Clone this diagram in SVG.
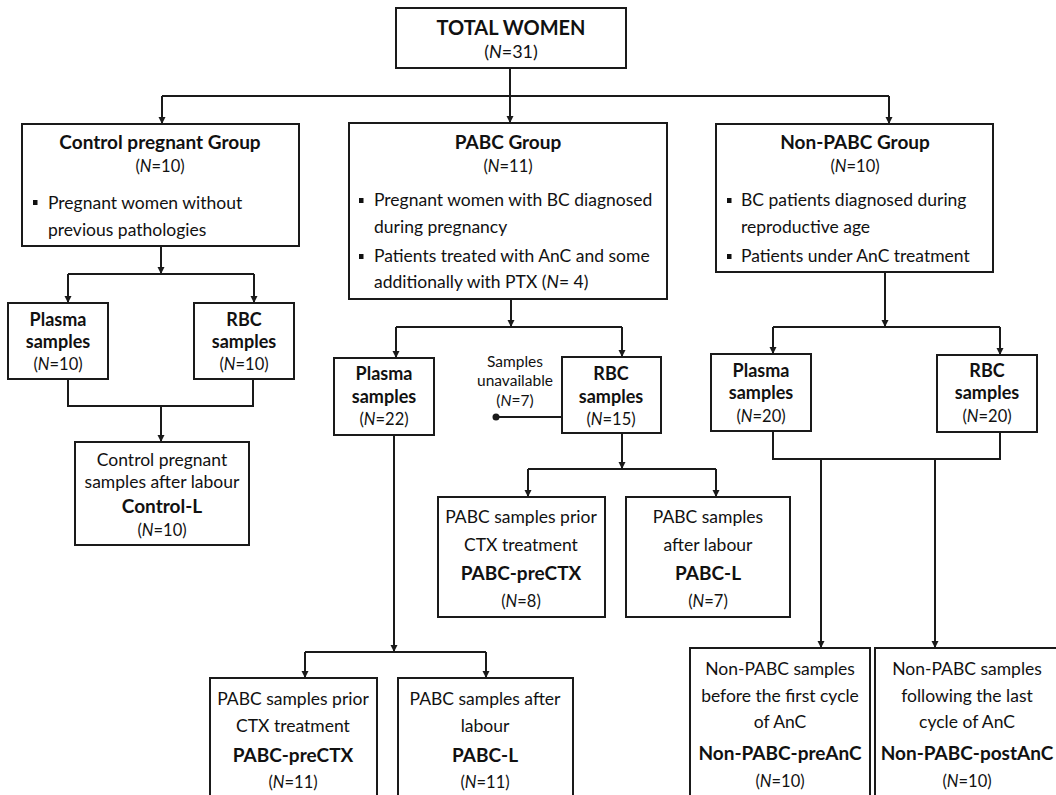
<svg xmlns="http://www.w3.org/2000/svg" width="1056" height="795" viewBox="0 0 1056 795">
<defs>
<marker id="arr" markerUnits="userSpaceOnUse" markerWidth="8" markerHeight="8" refX="7" refY="4" orient="auto">
<path d="M0,0.5 L7,4 L0,7.5 z" fill="#1a1a1a"/>
</marker>
<style>
.box{fill:#fff;stroke:#1a1a1a;stroke-width:2}
.ln{fill:none;stroke:#1a1a1a;stroke-width:2}
.ar{fill:none;stroke:#1a1a1a;stroke-width:2;marker-end:url(#arr)}
text{font-family:Lato,"Liberation Sans",sans-serif;fill:#111;font-size:17.5px}
.c{text-anchor:middle}
.b{font-weight:bold;font-size:18px}
.t{font-size:19px;font-weight:bold}
.n{font-size:16.5px}
.s{font-size:15.5px}
.i{font-style:italic}
.bul{fill:#111}
</style>
</defs>
<rect width="1056" height="795" fill="#fff"/>
<g id="connectors">
<path class="ar" d="M510,68 V123"/>
<path class="ln" d="M162,96 H889"/>
<path class="ar" d="M162,96 V124"/>
<path class="ar" d="M889,96 V124"/>
<path class="ar" d="M161,246 V274"/>
<path class="ln" d="M68,274 H254"/>
<path class="ar" d="M68,274 V303"/>
<path class="ar" d="M254,274 V303"/>
<path class="ln" d="M68,379 V406 H253 V379"/>
<path class="ar" d="M161,406 V442"/>
<path class="ar" d="M511,299 V327"/>
<path class="ln" d="M396,327 H622"/>
<path class="ar" d="M396,327 V358"/>
<path class="ar" d="M622,327 V357"/>
<path class="ln" d="M496,417 H562"/>
<circle cx="496" cy="417" r="3.5" fill="#1a1a1a"/>
<path class="ar" d="M622,433 V469"/>
<path class="ln" d="M528,469 H716"/>
<path class="ar" d="M528,469 V497"/>
<path class="ar" d="M716,469 V497"/>
<path class="ar" d="M394,435 V652"/>
<path class="ln" d="M305,652 H486"/>
<path class="ar" d="M305,652 V678"/>
<path class="ar" d="M486,652 V678"/>
<path class="ar" d="M885,272 V327"/>
<path class="ln" d="M773,327 H1000"/>
<path class="ar" d="M773,327 V354"/>
<path class="ar" d="M1000,327 V355"/>
<path class="ln" d="M773,431 V459 H1000 V432"/>
<path class="ar" d="M821,459 V648"/>
<path class="ar" d="M935,459 V648"/>
</g>
<g id="total">
<rect class="box" x="396" y="8" width="230" height="60"/>
<text class="c t" x="511" y="35" style="font-size:20px">TOTAL WOMEN</text>
<text class="c n" x="511" y="58" style="font-size:18px">(<tspan class="i">N</tspan>=31)</text>
</g>
<g id="control-group">
<rect class="box" x="22" y="124" width="277" height="122"/>
<text class="c t" x="160" y="149">Control pregnant Group</text>
<text class="c n" x="160" y="172">(<tspan class="i">N</tspan>=10)</text>
<rect class="bul" x="33" y="200" width="4.5" height="5"/>
<text x="48" y="209">Pregnant women without</text>
<text x="48" y="236">previous pathologies</text>
</g>
<g id="pabc-group">
<rect class="box" x="349" y="123" width="318" height="176"/>
<text class="c t" x="508" y="149">PABC Group</text>
<text class="c n" x="508" y="172">(<tspan class="i">N</tspan>=11)</text>
<rect class="bul" x="359" y="198" width="4.5" height="5"/>
<text x="374" y="206">Pregnant women with BC diagnosed</text>
<text x="374" y="233">during pregnancy</text>
<rect class="bul" x="359" y="254" width="4.5" height="5"/>
<text x="374" y="262">Patients treated with AnC and some</text>
<text x="374" y="288">additionally with PTX (<tspan class="i">N</tspan>= 4)</text>
</g>
<g id="nonpabc-group">
<rect class="box" x="716" y="124" width="277" height="148"/>
<text class="c t" x="855" y="149">Non-PABC Group</text>
<text class="c n" x="855" y="172">(<tspan class="i">N</tspan>=10)</text>
<rect class="bul" x="727" y="198" width="4.5" height="5"/>
<text x="741" y="206">BC patients diagnosed during</text>
<text x="741" y="233">reproductive age</text>
<rect class="bul" x="727" y="254" width="4.5" height="5"/>
<text x="741" y="262">Patients under AnC treatment</text>
</g>
<g id="control-plasma">
<rect class="box" x="8" y="303" width="100" height="76"/>
<text class="c b" x="58" y="326">Plasma</text>
<text class="c b" x="58" y="348">samples</text>
<text class="c n" x="58" y="370">(<tspan class="i">N</tspan>=10)</text>
</g>
<g id="control-rbc">
<rect class="box" x="194" y="303" width="100" height="76"/>
<text class="c b" x="244" y="326">RBC</text>
<text class="c b" x="244" y="348">samples</text>
<text class="c n" x="244" y="370">(<tspan class="i">N</tspan>=10)</text>
</g>
<g id="control-l">
<rect class="box" x="75" y="442" width="174" height="103"/>
<text class="c" x="162" y="466">Control pregnant</text>
<text class="c" x="162" y="488">samples after labour</text>
<text class="c t" x="162" y="513">Control-L</text>
<text class="c n" x="162" y="536">(<tspan class="i">N</tspan>=10)</text>
</g>
<g id="pabc-plasma">
<rect class="box" x="334" y="358" width="100" height="77"/>
<text class="c b" x="384" y="380">Plasma</text>
<text class="c b" x="384" y="403">samples</text>
<text class="c n" x="384" y="425">(<tspan class="i">N</tspan>=22)</text>
</g>
<g id="pabc-rbc">
<rect class="box" x="562" y="357" width="99" height="76"/>
<text class="c b" x="611" y="380">RBC</text>
<text class="c b" x="611" y="403">samples</text>
<text class="c n" x="611" y="425">(<tspan class="i">N</tspan>=15)</text>
</g>
<g id="samples-unavailable">
<text class="c s" x="515" y="367">Samples</text>
<text class="c s" x="515" y="386">unavailable</text>
<text class="c s" x="515" y="406">(<tspan class="i">N</tspan>=7)</text>
</g>
<g id="rbc-prectx">
<rect class="box" x="438" y="497" width="167" height="120"/>
<text class="c" x="521" y="523">PABC samples prior</text>
<text class="c" x="521" y="551">CTX treatment</text>
<text class="c t" x="521" y="580">PABC-preCTX</text>
<text class="c n" x="521" y="607">(<tspan class="i">N</tspan>=8)</text>
</g>
<g id="rbc-l">
<rect class="box" x="626" y="497" width="164" height="120"/>
<text class="c" x="708" y="523">PABC samples</text>
<text class="c" x="708" y="551">after labour</text>
<text class="c t" x="708" y="580">PABC-L</text>
<text class="c n" x="708" y="607">(<tspan class="i">N</tspan>=7)</text>
</g>
<g id="plasma-prectx">
<rect class="box" x="210" y="678" width="167" height="130"/>
<text class="c" x="293" y="705">PABC samples prior</text>
<text class="c" x="293" y="732">CTX treatment</text>
<text class="c t" x="293" y="762">PABC-preCTX</text>
<text class="c n" x="293" y="788">(<tspan class="i">N</tspan>=11)</text>
</g>
<g id="plasma-l">
<rect class="box" x="398" y="678" width="175" height="130"/>
<text class="c" x="485" y="705">PABC samples after</text>
<text class="c" x="485" y="732">labour</text>
<text class="c t" x="485" y="762">PABC-L</text>
<text class="c n" x="485" y="788">(<tspan class="i">N</tspan>=11)</text>
</g>
<g id="nonpabc-plasma">
<rect class="box" x="711" y="354" width="100" height="77"/>
<text class="c b" x="761" y="377">Plasma</text>
<text class="c b" x="761" y="399">samples</text>
<text class="c n" x="761" y="422">(<tspan class="i">N</tspan>=20)</text>
</g>
<g id="nonpabc-rbc">
<rect class="box" x="937" y="355" width="100" height="77"/>
<text class="c b" x="987" y="377">RBC</text>
<text class="c b" x="987" y="399">samples</text>
<text class="c n" x="987" y="422">(<tspan class="i">N</tspan>=20)</text>
</g>
<g id="nonpabc-preanc">
<rect class="box" x="690" y="648" width="180" height="160"/>
<text class="c" x="780" y="675">Non-PABC samples</text>
<text class="c" x="780" y="702">before the first cycle</text>
<text class="c" x="780" y="728">of AnC</text>
<text class="c t" x="780" y="760">Non-PABC-preAnC</text>
<text class="c n" x="780" y="787">(<tspan class="i">N</tspan>=10)</text>
</g>
<g id="nonpabc-postanc">
<rect class="box" x="875" y="648" width="185" height="160"/>
<text class="c" x="967" y="675">Non-PABC samples</text>
<text class="c" x="967" y="702">following the last</text>
<text class="c" x="967" y="728">cycle of AnC</text>
<text class="c t" x="967" y="760">Non-PABC-postAnC</text>
<text class="c n" x="967" y="787">(<tspan class="i">N</tspan>=10)</text>
</g>
</svg>
